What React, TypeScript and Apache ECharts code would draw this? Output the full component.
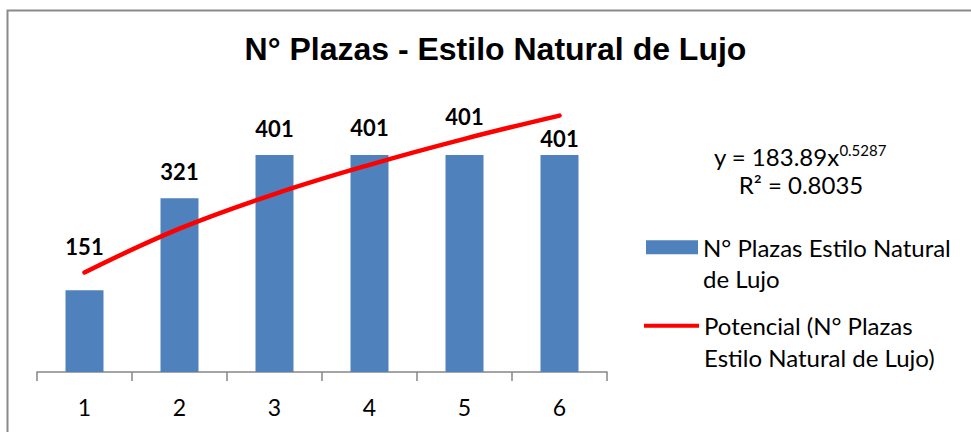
import React, { useEffect, useRef } from "react";
import * as echarts from "echarts";

const categories = ["1", "2", "3", "4", "5", "6"];
const plazas = [151, 321, 401, 401, 401, 401];
// trend line (power fit) values at each category
const trendValues = [184, 265, 329, 383, 431, 474];
const barName = "N° Plazas Estilo Natural de Lujo";
const trendName = "Potencial (N° Plazas Estilo Natural de Lujo)";
const titleText = "N° Plazas - Estilo Natural de Lujo";
const equationMain = "y = 183.89x";
const equationExp = "0.5287";
const rSquared = "R² = 0.8035";
// label lift above each bar (style only)
const labelLift = [31, 14, 14, 15, 26, 4];

const FONT = "Lato, 'Open Sans', sans-serif";

export default function App() {
  const ref = useRef<HTMLDivElement>(null);
  useEffect(() => {
    if (!ref.current) return;
    const chart = echarts.init(ref.current, null, { renderer: "svg" });
    const wrap: Record<string, string> = {
      [barName]: "\nN° Plazas Estilo Natural\nde Lujo",
      [trendName]: "\nPotencial (N° Plazas\nEstilo Natural de Lujo)",
    };
    const legendText = {
      fontFamily: FONT,
      fontSize: 24,
      lineHeight: 31.5,
      color: "#000",
    };
    chart.setOption({
      animation: false,
      backgroundColor: "#ffffff",
      title: {
        text: titleText,
        left: 495.5,
        top: 31,
        textAlign: "center",
        padding: 0,
        textStyle: {
          fontFamily: "'Liberation Sans', Arial, sans-serif",
          fontWeight: "bold",
          fontSize: 32,
          lineHeight: 36,
          color: "#000",
        },
      },
      legend: [
        {
          data: [{ name: barName, icon: "rect" }],
          left: 646,
          top: 200,
          padding: 0,
          itemWidth: 52,
          itemHeight: 14,
          formatter: (n: string) => wrap[n] ?? n,
          textStyle: legendText,
        },
        {
          data: [{ name: trendName, icon: "path://M0,0H55V4H0Z" }],
          left: 644,
          top: 278.5,
          padding: 0,
          itemWidth: 55,
          itemHeight: 4,
          formatter: (n: string) => wrap[n] ?? n,
          textStyle: legendText,
        },
      ],
      grid: { left: 37, width: 570, top: 101.5, height: 270.5 },
      xAxis: {
        type: "category",
        data: categories,
        boundaryGap: true,
        axisLine: { lineStyle: { color: "#868686", width: 1.5 } },
        axisTick: { show: true, length: 9, lineStyle: { color: "#868686", width: 1.5 } },
        axisLabel: {
          fontFamily: FONT,
          fontSize: 23,
          lineHeight: 26,
          margin: 22,
          color: "#000",
        },
      },
      yAxis: {
        type: "value",
        min: 0,
        max: 500,
        show: false,
        splitLine: { show: false },
      },
      series: [
        {
          name: barName,
          type: "bar",
          barWidth: 38,
          itemStyle: { color: "#4f81bd" },
          data: plazas.map((v, i) => ({
            value: v,
            label: { distance: labelLift[i] },
          })),
          label: {
            show: true,
            position: "top",
            fontFamily: FONT,
            fontWeight: "bold",
            fontSize: 22,
            lineHeight: 26,
            color: "#000",
          },
        },
        {
          name: trendName,
          type: "line",
          data: trendValues,
          smooth: 0.4,
          showSymbol: false,
          symbol: "none",
          lineStyle: { color: "#ff0000", width: 4.5, cap: "round" },
          itemStyle: { color: "#ff0000" },
          z: 5,
        },
      ],
      graphic: [
        {
          type: "rect",
          shape: { x: 7.5, y: 10.5, width: 1000, height: 500 },
          style: { fill: "none", stroke: "#8a8a8a", lineWidth: 2 },
          silent: true,
        },
        {
          type: "text",
          x: 800,
          y: 156,
          style: {
            text: `{m|${equationMain}}{s|${equationExp}}`,
            align: "center",
            verticalAlign: "middle",
            rich: {
              m: { fontFamily: FONT, fontSize: 24, lineHeight: 28, fill: "#000" },
              s: {
                fontFamily: FONT,
                fontSize: 15,
                lineHeight: 28,
                verticalAlign: "top",
                padding: [0, 0, 14, 0],
                fill: "#000",
              },
            },
          },
        },
        {
          type: "text",
          x: 801,
          y: 184,
          style: {
            text: rSquared,
            align: "center",
            verticalAlign: "middle",
            fontFamily: FONT,
            fontSize: 24,
            fill: "#000",
          },
        },
      ],
    });
    return () => chart.dispose();
  }, []);
  return (
    <div
      ref={ref}
      style={{ position: "fixed", left: 0, top: 0, width: 971, height: 432 }}
    />
  );
}
